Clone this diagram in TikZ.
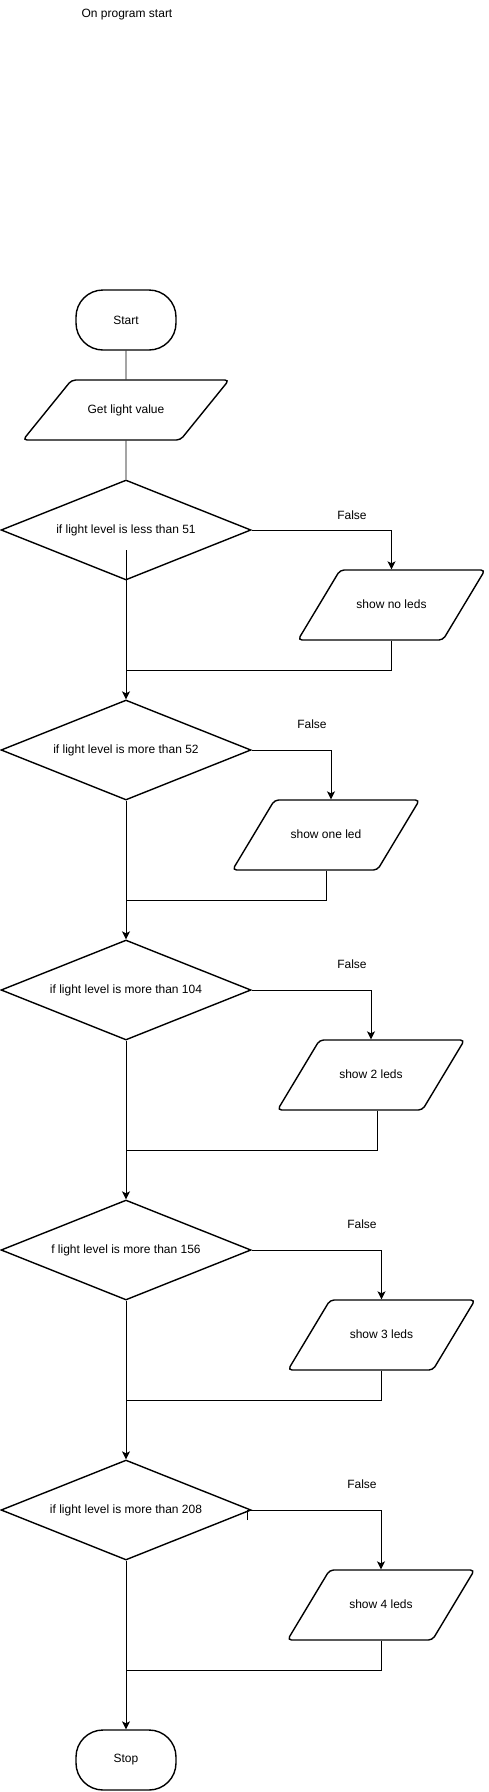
\documentclass[tikz,border=0pt]{standalone}
\usepackage{fontspec}
\setmainfont{Liberation Sans}
\usetikzlibrary{shapes.geometric}
\usetikzlibrary{arrows.meta}

\begin{document}
\begin{tikzpicture}[x=1pt, y=-1pt,
  every node/.style={font=\fontsize{12}{14}\selectfont},
  terminal/.style={draw, line width=1.4pt, rounded corners=27pt, minimum width=100pt, minimum height=60pt},
  inbox/.style={draw, line width=1.4pt, rounded corners=4pt, trapezium, trapezium stretches body, trapezium left angle=51, trapezium right angle=129, text height=9pt, text depth=3pt, inner ysep=24pt, minimum width=206pt},
  outbox/.style={draw, line width=1.4pt, rounded corners=4pt, trapezium, trapezium stretches body, trapezium left angle=59, trapezium right angle=121, text height=9pt, text depth=3pt, inner ysep=29pt, minimum width=187pt},
  decision/.style={draw, line width=1.4pt, diamond, aspect=2.5, minimum width=250pt, minimum height=100pt, inner sep=0pt},
  flow/.style={line width=0.9pt},
  flowarrow/.style={line width=0.9pt, -{Stealth[length=8pt, width=8pt, inset=2pt]}}]
\useasboundingbox (0,0) rectangle (488,1792);
\node (title) at (127,15) {On program start};
\node[terminal] (start) at (126,320) {Start};
\node[inbox] (get) at (126,410) {Get light value};
\node[decision] (d1) at (126,530) {if light level is less than 51};
\node[decision] (d2) at (126,750) {if light level is more than 52};
\node[decision] (d3) at (126,990) {if light level is more than 104};
\node[decision] (d4) at (126,1250) {f light level is more than 156};
\node[decision] (d5) at (126,1510) {if light level is more than 208};
\node[outbox] (b1) at (391.5,605) {show no leds};
\node[outbox] (b2) at (326,835) {show one led};
\node[outbox] (b3) at (371,1075) {show 2 leds};
\node[outbox] (b4) at (381.5,1335) {show 3 leds};
\node[outbox] (b5) at (381,1605) {show 4 leds};
\node[terminal] (stop) at (126,1760) {Stop};
\node (f1) at (352,515) {False};
\node (f2) at (312,724) {False};
\node (f3) at (352,964) {False};
\node (f4) at (362,1224) {False};
\node (f5) at (362,1484) {False};
\coordinate (j1) at (126,670);
\coordinate (j2) at (126,900);
\coordinate (j3) at (126,1150);
\coordinate (j4) at (126,1400);
\coordinate (j5) at (126,1670);
\draw[flow] (start.south) -- (get.north);
\draw[flow] (get.south) -- (d1.north);
\draw[flowarrow] ([yshift=-20pt]d1.center) -- (d2.north);
\draw[flowarrow] (d2.south) -- (d3.north);
\draw[flowarrow] (d3.south) -- (d4.north);
\draw[flowarrow] (d4.south) -- (d5.north);
\draw[flowarrow] (d5.south) -- (stop.north);
\draw[flowarrow] (d1.east) -| (b1.north);
\draw[flowarrow] (d2.east) -| ([xshift=5pt]b2.north);
\draw[flowarrow] (d3.east) -| (b3.north);
\draw[flowarrow] (d4.east) -| (b4.north);
\draw[flowarrow] ([xshift=-4pt,yshift=-10pt]d5.east) -- ([xshift=-4pt]d5.east) -- (d5.east) -| (b5.north);
\draw[flow] (b1.south) |- (j1);
\draw[flow] (b2.south) |- (j2);
\draw[flow] ([xshift=6pt]b3.south) |- (j3);
\draw[flow] (b4.south) |- (j4);
\draw[flow] (b5.south) |- (j5);
\end{tikzpicture}
\end{document}
